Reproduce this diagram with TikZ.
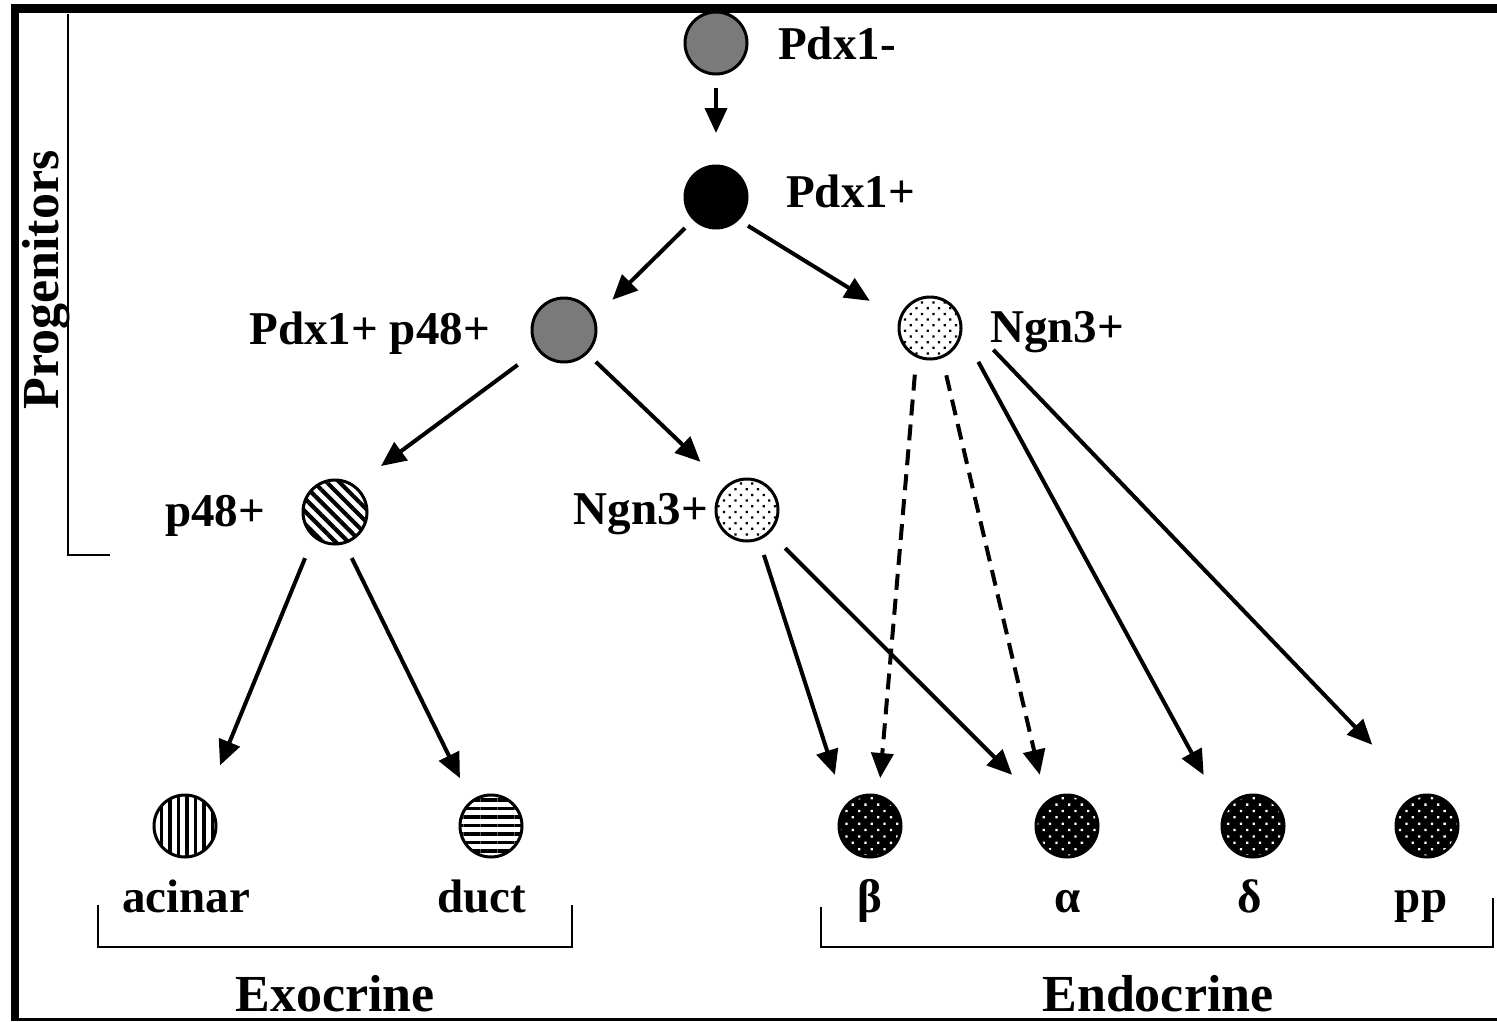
\documentclass[tikz,border=0pt]{standalone}
\usepackage{fontspec}
\setmainfont{Liberation Serif}
\usetikzlibrary{arrows.meta,patterns.meta,calc}
\definecolor{cellgray}{RGB}{122,122,122}
\begin{document}
\begin{tikzpicture}[x=1pt,y=1pt,
  cell/.style={circle, draw=black, line width=3pt, minimum size=62pt, inner sep=0pt},
  graycell/.style={cell, fill=cellgray},
  blackcell/.style={cell, fill=black},
  dotcell/.style={cell, preaction={fill=white}, pattern={Dots[distance=8pt,angle=45,radius=1.6pt]}, pattern color=black},
  diagcell/.style={cell, preaction={fill=white}, pattern={Lines[distance=9pt,angle=-45,line width=4.2pt]}, pattern color=black},
  vertcell/.style={cell, preaction={fill=white}, pattern={Lines[distance=8.5pt,angle=90,line width=3.5pt]}, pattern color=black},
  horzcell/.style={cell, preaction={fill=white}, pattern={Lines[distance=8.5pt,angle=0,line width=3.5pt]}, pattern color=black},
  endocell/.style={cell, preaction={fill=black}, pattern={Dots[distance=9pt,angle=45,radius=1.6pt]}, pattern color=white},
  arr/.style={line width=4pt, -{Triangle[length=25pt,width=22pt]}},
  dasharr/.style={arr, dash pattern=on 16pt off 9pt},
  lab/.style={font=\fontsize{47}{50}\selectfont\bfseries, inner sep=0pt},
  biglab/.style={font=\fontsize{52}{56}\selectfont\bfseries, inner sep=0pt},
  bracketline/.style={line width=2pt}
]
\useasboundingbox (0,0) rectangle (1497,-1021);
% frame
\draw[line width=9pt] (11,-8.5) -- (1497,-8.5);
\draw[line width=8pt] (15,-4) -- (15,-1021);
\draw[line width=2.5pt] (11,-1019.5) -- (1497,-1019.5);

% cells
\node[graycell]  (pdxm) at (716,-43) {};
\node[blackcell] (pdxp) at (716,-197) {};
\node[graycell, minimum size=64pt] (pp48) at (564,-330) {};
\node[dotcell]   (ngnU) at (930,-328) {};
\node[diagcell, minimum size=64pt] (p48) at (335,-512) {};
\node[dotcell]   (ngnL) at (747,-510) {};
\node[vertcell]  (acinar) at (185,-826) {};
\node[horzcell]  (duct) at (491,-826) {};
\node[endocell]  (beta) at (870,-826) {};
\node[endocell]  (alpha) at (1067,-826) {};
\node[endocell]  (delta) at (1253,-826) {};
\node[endocell]  (ppc) at (1427,-826) {};

% labels
\node[lab, anchor=base west] (lpdxm) at (778,-59) {Pdx1-};
\node[lab, anchor=base west] (lpdxp) at (786,-207) {Pdx1+};
\node[lab, anchor=base east] (lpp48) at (490,-344) {Pdx1+ p48+};
\node[lab, anchor=base west] (lngnU) at (990,-342) {Ngn3+};
\node[lab, anchor=base west] (lp48) at (165,-526) {p48+};
\node[lab, anchor=base east] (lngnL) at (708,-524) {Ngn3+};
\node[lab, anchor=base] (lacinar) at (186,-912) {acinar};
\node[lab, anchor=base] (lduct) at (482,-912) {duct};
\node[lab, anchor=base] (lbeta) at (870,-912) {β};
\node[lab, anchor=base] (lalpha) at (1068,-912) {α};
\node[lab, anchor=base] (ldelta) at (1250,-912) {δ};
\node[lab, anchor=base] (lpp) at (1421,-912) {pp};
\node[biglab, anchor=base] (lexo) at (335,-1011) {Exocrine};
\node[biglab, anchor=base] (lendo) at (1158,-1011) {Endocrine};
\node[biglab, anchor=base, rotate=90] (lprog) at (58,-280) {Progenitors};

% brackets
\draw[bracketline] (68,-14) -- (68,-555) -- (110,-555);
\draw[bracketline] (98,-905) -- (98,-947) -- (572,-947) -- (572,-905);
\draw[bracketline] (821,-907) -- (821,-947) -- (1493,-947) -- (1493,-898);

% arrows
\draw[arr] ($(pdxm)+(270:45)$) -- ($(pdxp)+(90:64)$);
\draw[arr] ($(pdxp)+(225:44)$) -- ($(pp48)+(32:57)$);
\draw[arr] ($(pdxp)+(318:43)$) -- ($(ngnU)+(155.7:66)$);
\draw[arr] ($(pp48)+(217:58)$) -- ($(p48)+(45:65)$);
\draw[arr] ($(pp48)+(315:45)$) -- ($(ngnL)+(134:67)$);
\draw[arr] ($(p48)+(237:55)$) -- ($(acinar)+(60:70)$);
\draw[arr] ($(p48)+(290:49)$) -- ($(duct)+(123:57)$);
\draw[arr] ($(ngnL)+(290.6:48)$) -- ($(beta)+(124.5:62)$);
\draw[arr] ($(ngnL)+(315:54)$) -- ($(alpha)+(137:75)$);
\draw[dasharr] ($(ngnU)+(252:49)$) -- ($(beta)+(78:49)$);
\draw[dasharr] ($(ngnU)+(289:50)$) -- ($(alpha)+(118:58)$);
\draw[arr] ($(ngnU)+(325:59)$) -- ($(delta)+(134:71)$);
\draw[arr] ($(ngnU)+(341:67)$) -- ($(ppc)+(124:98)$);
\end{tikzpicture}
\end{document}
